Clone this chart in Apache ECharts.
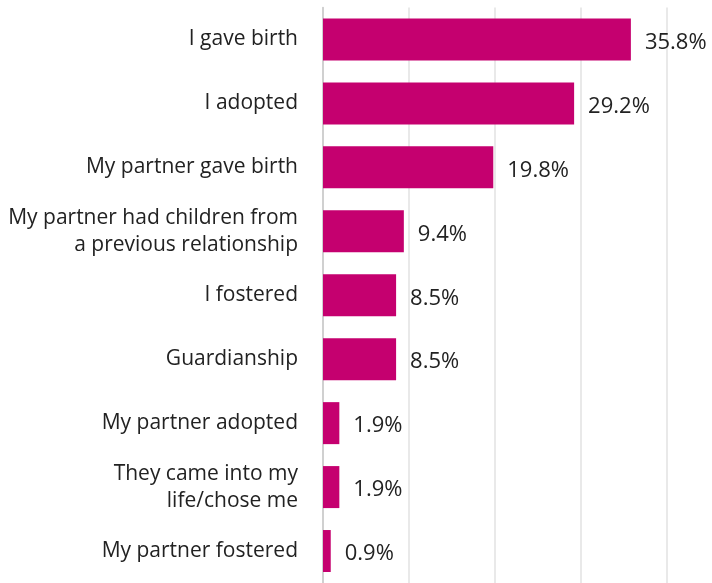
<!DOCTYPE html>
<html>
<head>
<meta charset="utf-8">
<script src="https://cdn.jsdelivr.net/npm/echarts@6/dist/echarts.min.js"></script>
<style>
  html, body { margin: 0; padding: 0; background: #fff; }
  #chart { width: 712px; height: 583px; }
</style>
</head>
<body>
<div id="chart"></div>
<script>
// How respondents became parents (share of respondents, %)
const categories = [
  'I gave birth',
  'I adopted',
  'My partner gave birth',
  'My partner had children from\na previous relationship',
  'I fostered',
  'Guardianship',
  'My partner adopted',
  'They came into my\nlife/chose me',
  'My partner fostered'
];
const values = [35.8, 29.2, 19.8, 9.4, 8.5, 8.5, 1.9, 1.9, 0.9];
const xTicks = [0, 10, 20, 30, 40];

const chart = echarts.init(document.getElementById('chart'), null, { renderer: 'canvas' });
const font = 'Open Sans';

chart.setOption({
  animation: false,
  grid: { left: 323, right: 45, top: 7.5, bottom: -5, containLabel: false },
  xAxis: {
    type: 'value',
    min: xTicks[0],
    max: xTicks[xTicks.length - 1],
    interval: xTicks[1] - xTicks[0],
    axisLabel: { show: false },
    axisLine: { show: false },
    axisTick: { show: false },
    splitLine: { show: true, lineStyle: { color: '#e2e2e2', width: 1.5 } }
  },
  yAxis: {
    type: 'category',
    inverse: true,
    data: categories,
    axisLine: { show: true, lineStyle: { color: '#c8c8c8', width: 1.5 } },
    axisTick: { show: false },
    axisLabel: {
      margin: 25,
      color: '#222',
      fontFamily: font,
      fontSize: 21,
      lineHeight: 27,
      align: 'right'
    }
  },
  series: [{
    type: 'bar',
    data: values,
    barWidth: 42,
    itemStyle: { color: '#C5006F' },
    label: {
      show: true,
      position: 'right',
      distance: 14,
      offset: [0, 3],
      color: '#222',
      fontFamily: font,
      fontSize: 22,
      formatter: p => p.value.toFixed(1) + '%'
    }
  }]
});
</script>
</body>
</html>
